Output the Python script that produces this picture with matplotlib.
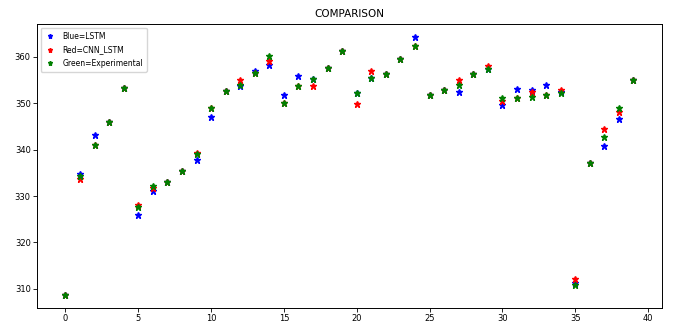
import numpy as np
import matplotlib
matplotlib.use("Agg")
import matplotlib.pyplot as plt

# sample index along the x axis
idx = np.arange(40)

# model predictions and measured values
lstm = [308.7, 334.85, 343.1, 346.0, 353.3, 325.9, 331.0, 333.1, 335.3, 337.7,
        347.0, 352.6, 353.7, 357.0, 358.2, 351.7, 355.8, 355.2, 357.7, 361.2,
        352.2, 355.4, 356.3, 359.6, 364.3, 351.7, 352.9, 352.4, 356.2, 357.4,
        349.7, 353.1, 352.9, 353.9, 352.4, 311.3, 337.1, 340.8, 346.5, 355.1]
cnn_lstm = [308.7, 333.7, 341.0, 346.0, 353.3, 328.0, 331.7, 333.1, 335.3, 339.2,
            348.9, 352.6, 354.9, 356.5, 359.1, 350.1, 353.8, 353.8, 357.7, 361.2,
            349.9, 357.0, 356.3, 359.6, 362.4, 351.7, 352.9, 354.9, 356.2, 358.1,
            350.4, 351.1, 352.5, 351.7, 352.8, 312.1, 337.1, 344.4, 348.2, 354.9]
experimental = [308.7, 334.3, 341.0, 346.0, 353.3, 327.6, 332.2, 333.1, 335.3, 339.0,
                348.9, 352.6, 354.0, 356.5, 360.2, 350.1, 353.8, 355.2, 357.7, 361.2,
                352.2, 355.4, 356.3, 359.6, 362.4, 351.7, 352.9, 354.0, 356.2, 357.4,
                351.2, 351.1, 351.4, 351.7, 352.1, 310.9, 337.1, 342.8, 348.9, 355.1]

fig = plt.figure(figsize=(6.73, 3.24), dpi=100)
ax = fig.add_axes([0.055, 0.05, 0.9285, 0.876])

ax.plot(idx, lstm, 'b*', markersize=4.5, label='Blue=LSTM')
ax.plot(idx, cnn_lstm, 'r*', markersize=4.5, label='Red=CNN_LSTM')
ax.plot(idx, experimental, '*', color='green', markersize=4.5, label='Green=Experimental')

ax.set_title('COMPARISON', fontsize=7.5, pad=5)
ax.set_xticks(range(0, 41, 5))
ax.set_yticks(range(310, 361, 10))
ax.tick_params(labelsize=6, length=3, width=0.6, pad=1.5)
for s in ax.spines.values():
    s.set_linewidth(0.7)

ax.legend(loc='upper left', fontsize=5.5, handlelength=1.5, borderpad=0.5,
          labelspacing=0.6, framealpha=0.8, markerscale=0.8)

fig.savefig('out.png', dpi=100)
